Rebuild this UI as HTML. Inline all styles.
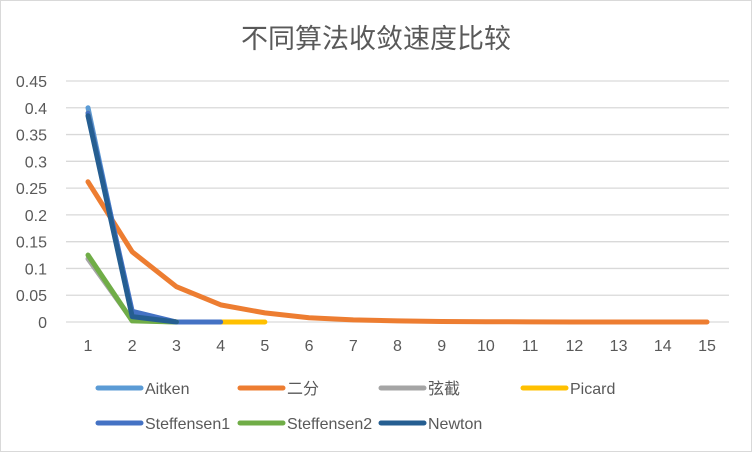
<!DOCTYPE html>
<html><head><meta charset="utf-8">
<style>
body{margin:0;background:#fff}
svg{display:block;font-family:"Liberation Sans","Noto Sans CJK SC",sans-serif}
</style></head><body>
<svg width="752" height="452">
<rect x="0.5" y="0.5" width="751" height="451" fill="#fff" stroke="#d9d9d9"/>
<text x="376" y="48" text-anchor="middle" font-size="27" fill="#595959">不同算法收敛速度比较</text>
<g id="grid"></g><g id="ylab"></g><g id="xlab"></g><g id="series"></g><g id="legend"></g>
</svg>
<script>
const categories=[1,2,3,4,5,6,7,8,9,10,11,12,13,14,15];
const yTicks=[0,0.05,0.1,0.15,0.2,0.25,0.3,0.35,0.4,0.45];
const seriesNames=["Aitken","二分","弦截","Picard","Steffensen1","Steffensen2","Newton"];
const seriesColors=["#5b9bd5","#ed7d31","#a5a5a5","#ffc000","#4472c4","#70ad47","#255e91"];
const aitken=[0.4,0.012,0];
const erfen=[0.2618,0.131,0.066,0.032,0.017,0.008,0.004,0.002,0.001,0.0005,0.0003,0.0001,0.0001,0,0];
const xianjie=[0.118,0.003,0];
const picard=[0.39,0.012,0.0002,0,0];
const steff1=[0.39,0.02,0,0];
const steff2=[0.125,0.002,0];
const newton=[0.385,0.01,0];
const seriesData=[aitken,erfen,xianjie,picard,steff1,steff2,newton];
const NS="http://www.w3.org/2000/svg";
const x=i=>88+i*(707-88)/14;
const y=v=>322-v*(322-81)/0.45;
function mk(t,a,p){const e=document.createElementNS(NS,t);for(const k in a)e.setAttribute(k,a[k]);p.appendChild(e);return e;}
const g=document.getElementById('grid'),yl=document.getElementById('ylab'),xl=document.getElementById('xlab'),sg=document.getElementById('series'),lg=document.getElementById('legend');
yTicks.forEach(t=>{
 const l=mk('line',{x1:66,x2:729,y1:y(t),y2:y(t),stroke:'#d9d9d9','stroke-width':1.3},g);
 
 
 const tx=mk('text',{x:47,y:y(t)+6,'text-anchor':'end','font-size':16,fill:'#595959'},yl);
 tx.textContent=String(t);
 
 
});
categories.forEach((c,i)=>{
 const tx=mk('text',{x:x(i),y:351,'text-anchor':'middle','font-size':16,fill:'#595959'},xl);
 tx.textContent=c;
 
 
});
seriesData.forEach((d,s)=>{
 const p=mk('polyline',{points:d.map((v,i)=>x(i)+','+y(v)).join(' '),fill:'none',stroke:seriesColors[s],'stroke-width':5,'stroke-linecap':'round','stroke-linejoin':'round'},sg);
 
 
});
const lx=[98,240,381,523],ly=[388,423];
seriesNames.forEach((n,s)=>{
 const cx=lx[s<4?s:s-4],cy=ly[s<4?0:1];
 const l=mk('line',{x1:cx,x2:cx+43,y1:cy,y2:cy,stroke:seriesColors[s],'stroke-width':5,'stroke-linecap':'round'},lg);
 
 
 const t=mk('text',{x:cx+47,y:cy+6,'font-size':16,fill:'#595959'},lg);
 t.textContent=n;
 
 
});
</script>
</body></html>
